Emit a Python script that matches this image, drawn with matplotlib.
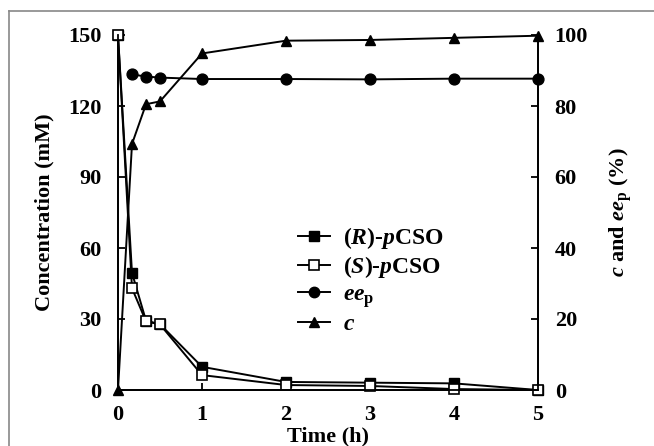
import matplotlib
matplotlib.use("Agg")
import matplotlib.pyplot as plt
from matplotlib.lines import Line2D

plt.rcParams['font.family'] = ['Liberation Serif', 'DejaVu Serif']
plt.rcParams['font.weight'] = 'bold'
plt.rcParams['mathtext.fontset'] = 'custom'
plt.rcParams['mathtext.rm'] = 'Liberation Serif:bold'
plt.rcParams['mathtext.it'] = 'Liberation Serif:bold:italic'
plt.rcParams['mathtext.bf'] = 'Liberation Serif:bold'

time_h = [0, 1/6, 1/3, 0.5, 1, 2, 3, 4, 5]
r_pcso = [150, 49.5, 29.3, 27.8, 9.8, 3.4, 3.1, 2.8, 0]
s_pcso = [150, 43, 29, 27.7, 6.3, 2.1, 1.7, 0.4, 0]
ee_time = [1/6, 1/3, 0.5, 1, 2, 3, 4, 5]
ee_p = [88.9, 88.3, 88.0, 87.6, 87.6, 87.5, 87.7, 87.7]
conv_c = [0, 69.3, 80.5, 81.3, 94.8, 98.4, 98.6, 99.2, 99.8]

left_ticks = [0, 30, 60, 90, 120, 150]
right_ticks = [0, 20, 40, 60, 80, 100]
x_ticks = [0, 1, 2, 3, 4, 5]

fig = plt.figure(figsize=(6.54, 4.46), dpi=100)
ax = fig.add_axes([118/654, 1-390/446, (538-118)/654, (390-35)/446])
ax2 = ax.twinx()

lw = 1.4
ax.plot(time_h, r_pcso, '-', color='black', lw=lw, marker='s', ms=7,
        mfc='black', mec='black', clip_on=False, zorder=3)
ax.plot(time_h, s_pcso, '-', color='black', lw=lw, marker='s', ms=7,
        mfc='white', mec='black', mew=1.2, clip_on=False, zorder=4)
ax2.plot(ee_time, ee_p, '-', color='black', lw=lw, marker='o', ms=7.8,
         mfc='black', mec='black', clip_on=False)
ax2.plot(time_h, conv_c, '-', color='black', lw=lw, marker='^', ms=7.5,
         mfc='black', mec='black', clip_on=False)

ax.set_xlim(0, 5)
ax.set_ylim(0, 150)
ax2.set_ylim(0, 100)
ax.set_xticks(x_ticks)
ax.set_yticks(left_ticks)
ax2.set_yticks(right_ticks)

for a in (ax, ax2):
    a.spines['top'].set_visible(False)
    for s in a.spines.values():
        s.set_linewidth(1.3)
    a.tick_params(direction='in', length=5, width=1.3, labelsize=16)
ax.tick_params(axis='y', pad=12)
ax2.tick_params(axis='y', pad=12)
ax.tick_params(axis='x', pad=11)

ax.set_xlabel('Time (h)', fontsize=16, fontweight='bold', labelpad=1)
ax.set_ylabel('Concentration (mM)', fontsize=16, fontweight='bold', labelpad=10)
ax2.set_ylabel('$c$ and $ee_{\\mathrm{p}}$ (%)', fontsize=16, fontweight='bold',
               rotation=90, labelpad=14)

handles = [
    Line2D([], [], color='black', lw=lw, marker='s', ms=7, mfc='black'),
    Line2D([], [], color='black', lw=lw, marker='s', ms=7, mfc='white', mew=1.2),
    Line2D([], [], color='black', lw=lw, marker='o', ms=7.5, mfc='black'),
    Line2D([], [], color='black', lw=lw, marker='^', ms=7.5, mfc='black'),
]
labels = ['($R$)-$p$CSO', '($S$)-$p$CSO', '$ee_{\\mathrm{p}}$', '$c$']
ax.legend(handles, labels, loc='upper left', bbox_to_anchor=(0.4286, 0.465),
          frameon=False, fontsize=17, handlelength=1.36, handletextpad=0.55,
          labelspacing=0.15, borderaxespad=0, borderpad=0)

fig.add_artist(Line2D([9/654, 1], [1-11/446, 1-11/446], color='#888888', lw=1.2,
                      transform=fig.transFigure))
fig.add_artist(Line2D([9/654, 9/654], [0, 1-11/446], color='#888888', lw=1.2,
                      transform=fig.transFigure))

fig.savefig('out.png', dpi=100)
